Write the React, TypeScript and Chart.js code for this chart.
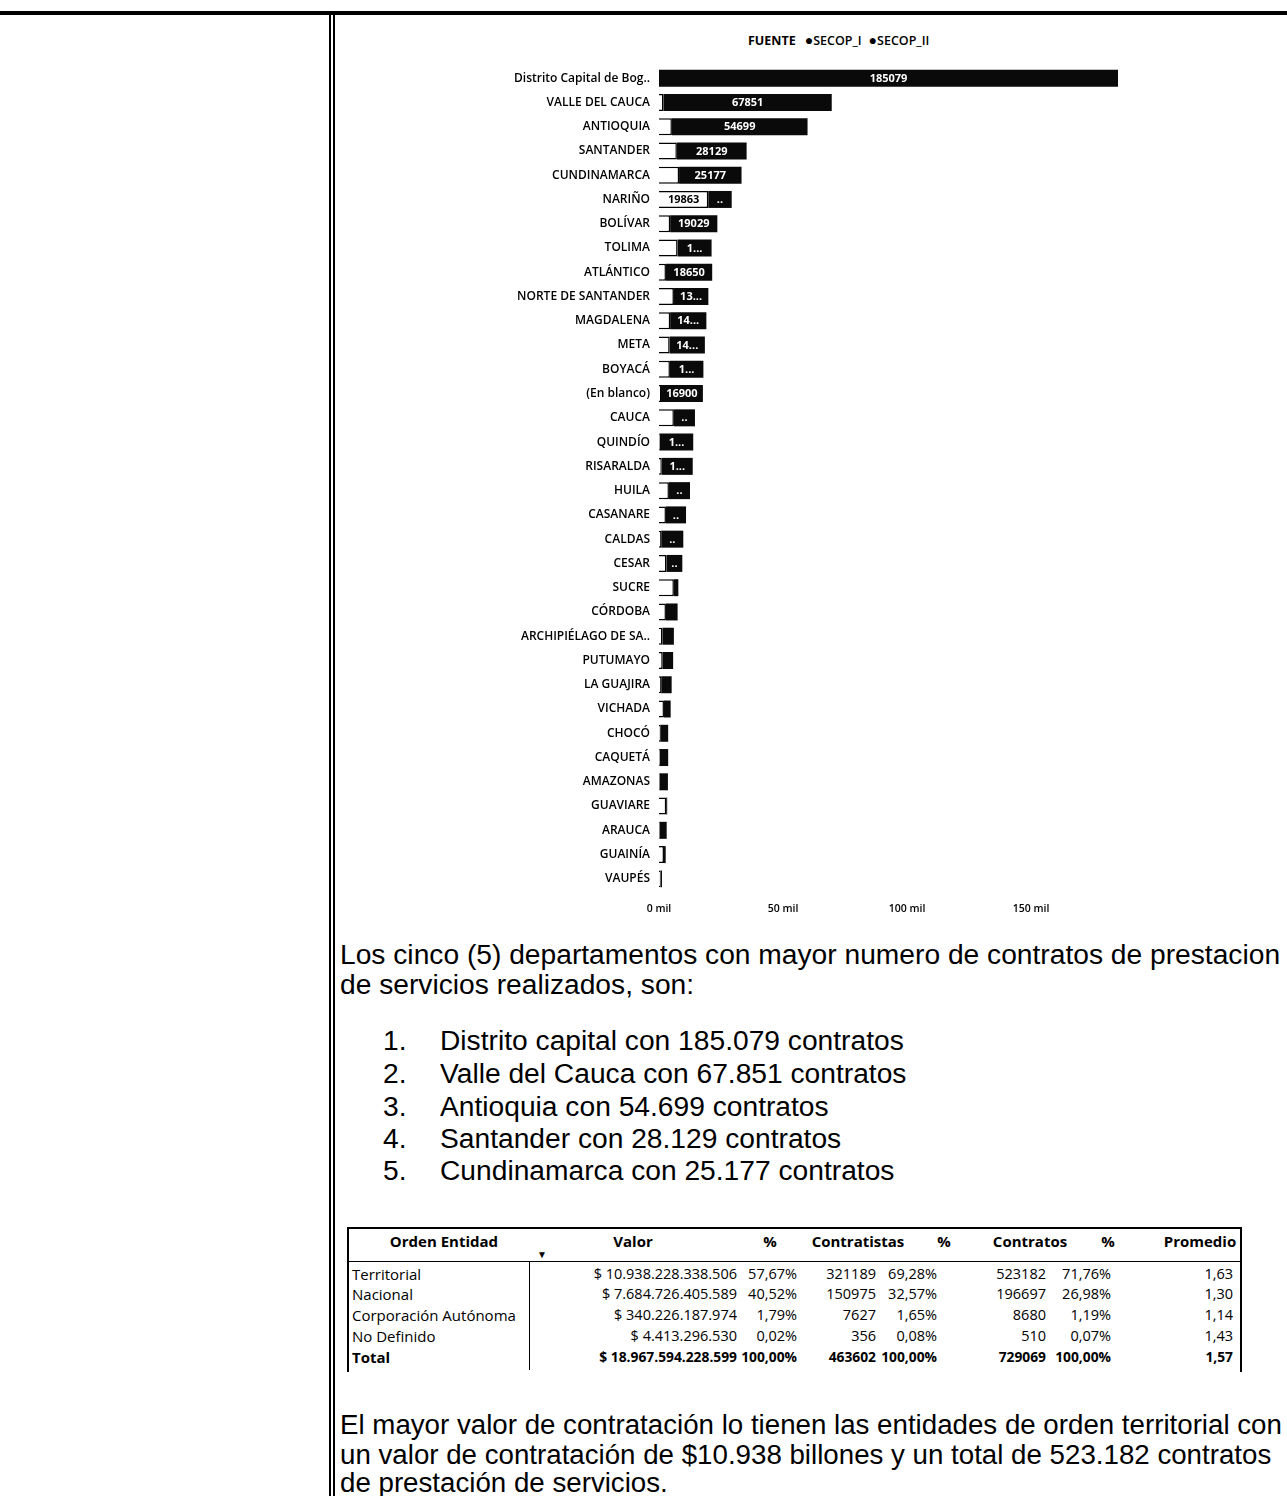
import React, { useEffect, useRef } from "react";
import { Chart, registerables } from "chart.js";

Chart.register(...registerables);

// ---------- chart data ----------
const departamentos = [
  "Distrito Capital de Bog..", "VALLE DEL CAUCA", "ANTIOQUIA", "SANTANDER", "CUNDINAMARCA",
  "NARIÑO", "BOLÍVAR", "TOLIMA", "ATLÁNTICO", "NORTE DE SANTANDER", "MAGDALENA", "META",
  "BOYACÁ", "(En blanco)", "CAUCA", "QUINDÍO", "RISARALDA", "HUILA", "CASANARE", "CALDAS",
  "CESAR", "SUCRE", "CÓRDOBA", "ARCHIPIÉLAGO DE SA..", "PUTUMAYO", "LA GUAJIRA", "VICHADA",
  "CHOCÓ", "CAQUETÁ", "AMAZONAS", "GUAVIARE", "ARAUCA", "GUAINÍA", "VAUPÉS",
];
const secopI = [
  0, 1800, 5200, 7200, 8100, 19863, 4500, 7500, 2800, 6000, 4500, 4300,
  4400, 800, 6000, 300, 1100, 4000, 2800, 900, 3000, 6000, 2800, 1400,
  1500, 900, 2000, 500, 300, 200, 2900, 200, 2000, 600,
];
const secopII = [
  185079, 67851, 54699, 28129, 25177, 9450, 19029, 13700, 18650, 13900, 14600, 14200,
  13500, 16900, 8500, 13500, 12500, 8500, 8100, 8900, 6400, 1800, 4700, 4600,
  4200, 4200, 2700, 3200, 3400, 3400, 400, 2900, 700, 600,
];
const xTicks = [0, 50000, 100000, 150000];
const seriesNames = ["SECOP_I", "SECOP_II"];

// ---------- text / table data ----------
const topCinco = [
  "Distrito capital con 185.079 contratos",
  "Valle del Cauca con 67.851 contratos",
  "Antioquia con 54.699 contratos",
  "Santander con 28.129 contratos",
  "Cundinamarca con 25.177 contratos",
];
const tablaHeaders = ["Orden Entidad", "Valor", "%", "Contratistas", "%", "Contratos", "%", "Promedio"];
const ordenEntidad = ["Territorial", "Nacional", "Corporación Autónoma", "No Definido", "Total"];
const valor = ["$ 10.938.228.338.506", "$ 7.684.726.405.589", "$ 340.226.187.974", "$ 4.413.296.530", "$ 18.967.594.228.599"];
const valorPct = ["57,67%", "40,52%", "1,79%", "0,02%", "100,00%"];
const contratistas = ["321189", "150975", "7627", "356", "463602"];
const contratistasPct = ["69,28%", "32,57%", "1,65%", "0,08%", "100,00%"];
const contratos = ["523182", "196697", "8680", "510", "729069"];
const contratosPct = ["71,76%", "26,98%", "1,19%", "0,07%", "100,00%"];
const promedio = ["1,63", "1,30", "1,14", "1,43", "1,57"];

const LABEL_FONT = '700 11px "Open Sans", "DejaVu Sans", sans-serif';

const segLabels = {
  id: "segLabels",
  afterDatasetsDraw(chart: any) {
    const ctx = chart.ctx;
    ctx.save();
    ctx.font = LABEL_FONT;
    ctx.textAlign = "center";
    ctx.textBaseline = "middle";
    chart.data.datasets.forEach((ds: any, di: number) => {
      const meta = chart.getDatasetMeta(di);
      meta.data.forEach((bar: any, i: number) => {
        const v = ds.data[i] as number;
        if (!v) return;
        const { x, base, y } = bar.getProps(["x", "base", "y"], true);
        const w = Math.abs(x - base);
        const full = String(v);
        let text: string | null = null;
        if (ctx.measureText(full).width + 8 <= w) text = full;
        else if (di === 1) {
          for (let k = full.length - 1; k >= 1; k--) {
            const t = full.slice(0, k) + "...";
            if (ctx.measureText(t).width + 12 <= w) { text = t; break; }
          }
          if (!text && w >= 12) text = "..";
        }
        if (text) {
          ctx.fillStyle = di === 1 ? "#ffffff" : "#000000";
          ctx.fillText(text, (x + base) / 2, y + 0.5);
        }
      });
    });
    ctx.restore();
  },
};

const W = 1287;

export default function App() {
  const ref = useRef<HTMLCanvasElement>(null);

  useEffect(() => {
    document.documentElement.style.overflow = "hidden";
    document.body.style.margin = "0";
    document.body.style.overflow = "hidden";
    const totals = secopI.map((v, i) => v + secopII[i]);
    const chart = new Chart(ref.current!, {
      type: "bar",
      data: {
        labels: departamentos,
        datasets: [
          {
            label: seriesNames[0],
            data: secopI,
            backgroundColor: "#ffffff",
            borderColor: "#000000",
            borderWidth: 1.5,
            barPercentage: 0.7,
            categoryPercentage: 1,
          },
          {
            label: seriesNames[1],
            data: secopII,
            backgroundColor: "#0a0a0a",
            borderWidth: 0,
            barPercentage: 0.7,
            categoryPercentage: 1,
          },
        ],
      },
      options: {
        indexAxis: "y",
        responsive: false,
        animation: false,
        devicePixelRatio: 1,
        layout: { padding: { top: 36, right: 22, bottom: 0, left: 0 } },
        plugins: { legend: { display: false }, tooltip: { enabled: false } },
        scales: {
          x: {
            stacked: true,
            min: 0,
            max: Math.max(...totals),
            grid: { display: false, drawTicks: false },
            border: { display: false },
            afterBuildTicks: (s: any) => { s.ticks = xTicks.map((v) => ({ value: v })); },
            ticks: {
              padding: 12,
              color: "#000",
              font: { family: '"Open Sans", sans-serif', size: 10.5, weight: "600" as any },
              callback: (v: any) => `${Number(v) / 1000} mil`,
            },
            afterFit: (s: any) => { s.height = 39; },
          },
          y: {
            stacked: true,
            grid: { display: false, drawTicks: false },
            border: { display: false },
            ticks: {
              padding: 9,
              color: "#000",
              autoSkip: false,
              font: { family: '"Open Sans", sans-serif', size: 12, weight: "600" as any },
            },
            afterFit: (s: any) => { s.width = 319; },
          },
        },
      },
      plugins: [segLabels],
    });
    return () => chart.destroy();
  }, []);

  const abs = (extra: React.CSSProperties): React.CSSProperties => ({ position: "absolute", whiteSpace: "nowrap", ...extra });
  const bodyFont = '"Liberation Sans", Arial, sans-serif';
  const tableFont = '"Open Sans", sans-serif';

  const rowY = [1274, 1294, 1315, 1336, 1357];
  const headerX = [444, 633, 770, 858, 944, 1030, 1108, 1200];
  const colRight = [737, 797, 876, 937, 1046, 1111, 1233];
  const cols = [valor, valorPct, contratistas, contratistasPct, contratos, contratosPct, promedio];
  const listY = [1040, 1073, 1106, 1138, 1170];
  const BIG = 28.2;

  return (
    <div style={{ position: "relative", width: W, height: 1496, overflow: "hidden", background: "#fff", color: "#000", fontFamily: bodyFont }}>
      {/* page frame */}
      <div style={abs({ left: 0, top: 11, width: W, height: 4, background: "#000" })} />
      <div style={abs({ left: 329, top: 11, width: 2, height: 1485, background: "#000" })} />
      <div style={abs({ left: 333, top: 11, width: 2, height: 1485, background: "#000" })} />

      {/* legend */}
      <div style={abs({ left: 748, top: 31, fontFamily: tableFont, fontSize: 12.5, fontWeight: 700, lineHeight: "18px" })}>
        <span>FUENTE</span>
        <span style={{ marginLeft: 9, fontSize: 14 }}>●</span><span style={{ fontWeight: 600 }}>{seriesNames[0]}</span>
        <span style={{ marginLeft: 7, fontSize: 14 }}>●</span><span style={{ fontWeight: 600 }}>{seriesNames[1]}</span>
      </div>

      <canvas ref={ref} width={800} height={900} style={{ position: "absolute", left: 340, top: 30, width: 800, height: 900 }} />

      {/* paragraph 1 */}
      <div style={abs({ left: 340, top: 939, fontSize: BIG, lineHeight: "30px" })}>Los cinco (5) departamentos con mayor numero de contratos de prestacion</div>
      <div style={abs({ left: 340, top: 969, fontSize: BIG, lineHeight: "30px" })}>de servicios realizados, son:</div>

      {topCinco.map((t, i) => (
        <React.Fragment key={i}>
          <div style={abs({ left: 383, top: listY[i] - 15, fontSize: BIG, lineHeight: "30px" })}>{i + 1}.</div>
          <div style={abs({ left: 440, top: listY[i] - 15, fontSize: BIG, lineHeight: "30px" })}>{t}</div>
        </React.Fragment>
      ))}

      {/* table */}
      <div style={abs({ left: 348, top: 1227, width: 893, height: 1.5, background: "#000" })} />
      <div style={abs({ left: 347, top: 1227, width: 1.5, height: 145, background: "#000" })} />
      <div style={abs({ left: 1240, top: 1227, width: 1.5, height: 145, background: "#000" })} />
      <div style={abs({ left: 348, top: 1261, width: 893, height: 1, background: "#000" })} />
      <div style={abs({ left: 529, top: 1262, width: 1, height: 108, background: "#000" })} />
      {tablaHeaders.map((h, i) => (
        <div key={"h" + i} style={abs({ left: headerX[i] - 100, width: 200, textAlign: "center", top: 1231, fontFamily: tableFont, fontSize: 15, fontWeight: 700, lineHeight: "20px" })}>{h}</div>
      ))}
      <div style={abs({ left: 537, top: 1249, fontSize: 10, lineHeight: "10px", fontFamily: tableFont })}>▼</div>
      {ordenEntidad.map((o, r) => (
        <React.Fragment key={"r" + r}>
          <div style={abs({ left: 352, top: rowY[r] - 10, fontFamily: tableFont, fontSize: 15, fontWeight: r === 4 ? 700 : 400, lineHeight: "20px" })}>{o}</div>
          {cols.map((c, ci) => (
            <div key={ci} style={abs({ right: W - colRight[ci], top: rowY[r] - 10, fontFamily: tableFont, fontSize: r === 4 ? 13.8 : 14.5, fontWeight: r === 4 ? 700 : 400, lineHeight: "20px" })}>{c[r]}</div>
          ))}
        </React.Fragment>
      ))}

      {/* final paragraph */}
      <div style={abs({ left: 340, top: 1410, fontSize: 27.7, lineHeight: "30px" })}>El mayor valor de contratación lo tienen las entidades de orden territorial con</div>
      <div style={abs({ left: 340, top: 1440, fontSize: 27.7, lineHeight: "30px" })}>un valor de contratación de $10.938 billones y un total de 523.182 contratos</div>
      <div style={abs({ left: 340, top: 1468, fontSize: 27.7, lineHeight: "30px" })}>de prestación de servicios.</div>
    </div>
  );
}
